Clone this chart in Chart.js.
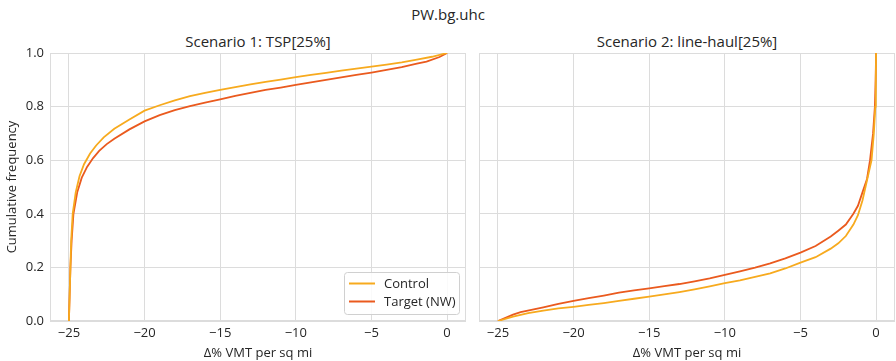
<!DOCTYPE html>
<html>
<head>
<meta charset="utf-8">
<script src="https://cdn.jsdelivr.net/npm/chart.js@4"></script>
<style>
  html, body { margin: 0; padding: 0; background: #fff; }
  body { width: 896px; height: 361px; position: relative; overflow: hidden; font-family: "Open Sans", sans-serif; }
  .box { position: absolute; top: 0; height: 361px; }
  .ttl { position: absolute; color: #262626; font-size: 15px; white-space: nowrap; transform: translateX(-50%); line-height: 1; }
</style>
</head>
<body>
<div class="ttl" style="left:448px; top:7px;">PW.bg.uhc</div>
<div class="ttl" style="left:258px; top:34px;">Scenario 1: TSP[25%]</div>
<div class="ttl" style="left:687px; top:34px;">Scenario 2: line-haul[25%]</div>
<div class="box" style="left:0; width:470px;"><canvas id="c1"></canvas></div>
<div class="box" style="left:470px; width:426px;"><canvas id="c2"></canvas></div>
<script>
// ---- data ----
const seriesNames = ["Control", "Target (NW)"];
const xTicks = [-25, -20, -15, -10, -5, 0];
const yTicks = [0, 0.2, 0.4, 0.6, 0.8, 1.0];

// Scenario 1: TSP[25%]
const s1ControlX = [-25, -24.95, -24.9, -24.85, -24.75, -24.55, -24.3, -24.0, -23.6, -23.2, -22.7, -22.0, -21, -20, -19, -18, -17, -16, -15, -14, -13, -12, -11, -10, -9, -8, -7, -6, -5, -4, -3, -2, -1, 0];
const s1ControlY = [0, 0.1, 0.2, 0.3, 0.4, 0.48, 0.54, 0.585, 0.625, 0.655, 0.685, 0.717, 0.752, 0.785, 0.805, 0.823, 0.839, 0.851, 0.862, 0.873, 0.883, 0.892, 0.901, 0.91, 0.918, 0.926, 0.934, 0.942, 0.949, 0.957, 0.965, 0.975, 0.986, 1.0];
const s1TargetX = [-25, -24.95, -24.9, -24.82, -24.7, -24.45, -24.15, -23.8, -23.4, -23, -22.5, -22, -21, -20, -19, -18, -17, -16, -15, -14, -13, -12, -11, -10, -9, -8, -7, -6, -5, -4, -3, -2, -1.36, -0.5, 0];
const s1TargetY = [0, 0.1, 0.2, 0.3, 0.4, 0.48, 0.535, 0.575, 0.608, 0.635, 0.66, 0.68, 0.715, 0.745, 0.768, 0.787, 0.802, 0.815, 0.827, 0.84, 0.851, 0.862, 0.871, 0.881, 0.89, 0.9, 0.909, 0.918, 0.927, 0.937, 0.947, 0.96, 0.968, 0.985, 1.0];

// Scenario 2: line-haul[25%]
const s2ControlX = [-25, -24, -23, -22, -21, -20, -19, -18, -17, -16, -15, -14, -13, -12, -11, -10, -9, -8, -7, -6, -5, -4, -3, -2.5, -2, -1.5, -1.2, -0.9, -0.7, -0.5, -0.3, -0.15, -0.05, -0.02, 0];
const s2ControlY = [0, 0.016, 0.029, 0.039, 0.047, 0.053, 0.06, 0.067, 0.075, 0.083, 0.091, 0.099, 0.108, 0.118, 0.129, 0.141, 0.152, 0.165, 0.178, 0.196, 0.218, 0.238, 0.27, 0.29, 0.317, 0.36, 0.395, 0.45, 0.5, 0.55, 0.6, 0.7, 0.8, 0.9, 1.0];
const s2TargetX = [-25, -24, -23.5, -22, -21, -20, -19, -18, -17, -16, -15, -14, -13, -12, -11, -10, -9, -8, -7, -6, -5, -4, -3, -2.5, -2, -1.5, -1.2, -0.9, -0.6, -0.4, -0.2, -0.08, -0.03, 0];
const s2TargetY = [0, 0.024, 0.033, 0.051, 0.064, 0.075, 0.085, 0.095, 0.106, 0.114, 0.122, 0.13, 0.138, 0.148, 0.159, 0.172, 0.185, 0.199, 0.215, 0.234, 0.255, 0.28, 0.315, 0.337, 0.36, 0.4, 0.43, 0.48, 0.53, 0.6, 0.7, 0.8, 0.9, 1.0];

const colors = ["#F7AA1E", "#EA5A1E"];
const FONT = "'Open Sans', sans-serif";
const TICK_COLOR = "#262626";
const GRID = "#dcdcdc";

const zip = (xs, ys) => xs.map((x, i) => ({ x: x, y: ys[i] }));
const fmtX = v => String(v).replace('-', '\u2212');

const framePlugin = {
  id: 'frame',
  beforeDatasetsDraw(chart) {
    const a = chart.chartArea, ctx = chart.ctx;
    ctx.save();
    ctx.strokeStyle = GRID;
    ctx.lineWidth = 1;
    ctx.strokeRect(Math.round(a.left) + 0.5, Math.round(a.top) + 0.5, Math.round(a.right - a.left) - 1, Math.round(a.bottom - a.top) - 1);
    ctx.restore();
  }
};

const legendPlugin = {
  id: 'innerLegend',
  afterDraw(chart, args, opts) {
    if (!opts || !opts.show) return;
    const a = chart.chartArea, ctx = chart.ctx;
    const w = 115, h = 42;
    const left = a.right - 7 - w, top = a.bottom - 7 - h;
    ctx.save();
    ctx.fillStyle = 'rgba(255,255,255,0.85)';
    ctx.strokeStyle = '#d0d0d0';
    ctx.lineWidth = 1;
    ctx.beginPath();
    ctx.roundRect(left + 0.5, top + 0.5, w, h, 3);
    ctx.fill();
    ctx.stroke();
    ctx.font = "13px " + FONT;
    ctx.textBaseline = 'middle';
    chart.data.datasets.forEach((ds, i) => {
      const y = top + 11.5 + i * 18;
      ctx.strokeStyle = ds.borderColor;
      ctx.lineWidth = 2;
      ctx.beginPath();
      ctx.moveTo(left + 5, y);
      ctx.lineTo(left + 31, y);
      ctx.stroke();
      ctx.fillStyle = TICK_COLOR;
      ctx.fillText(ds.label, left + 40, y + 0.5);
    });
    ctx.restore();
  }
};

function makeChart(id, control, target, showY, yWidth, padRight, showLegend) {
  return new Chart(document.getElementById(id), {
    type: 'line',
    data: {
      datasets: [
        { label: seriesNames[0], data: control, borderColor: colors[0], borderWidth: 1.8, pointRadius: 0, tension: 0, fill: false },
        { label: seriesNames[1], data: target, borderColor: colors[1], borderWidth: 1.8, pointRadius: 0, tension: 0, fill: false }
      ]
    },
    options: {
      responsive: true,
      maintainAspectRatio: false,
      animation: false,
      events: [],
      layout: { padding: { top: 53, left: 0, right: padRight, bottom: 0 } },
      plugins: {
        legend: { display: false },
        tooltip: { enabled: false },
        title: { display: false },
        innerLegend: { show: showLegend }
      },
      scales: {
        x: {
          type: 'linear',
          min: -26.25, max: 1.25,
          afterBuildTicks: s => { s.ticks = xTicks.map(v => ({ value: v })); },
          afterFit: s => { s.height = 40; },
          grid: { color: GRID, drawTicks: false, lineWidth: 1 },
          border: { display: false },
          ticks: { color: TICK_COLOR, font: { family: FONT, size: 13 }, padding: 4, callback: v => fmtX(v), maxRotation: 0 },
          title: { display: true, text: 'Δ% VMT per sq mi', color: TICK_COLOR, font: { family: FONT, size: 13 }, padding: { top: 0, bottom: 0 } }
        },
        y: {
          type: 'linear',
          min: 0, max: 1,
          afterBuildTicks: s => { s.ticks = yTicks.map(v => ({ value: v })); },
          afterFit: s => { s.width = yWidth; },
          grid: { color: GRID, drawTicks: false, lineWidth: 1 },
          border: { display: false },
          ticks: { display: showY, color: TICK_COLOR, font: { family: FONT, size: 13 }, padding: 6, callback: v => v.toFixed(1) },
          title: { display: showY, text: 'Cumulative frequency', color: TICK_COLOR, font: { family: FONT, size: 13 }, padding: { top: 4, bottom: 0 } }
        }
      }
    },
    plugins: [framePlugin, legendPlugin]
  });
}

makeChart('c1', zip(s1ControlX, s1ControlY), zip(s1TargetX, s1TargetY), true, 50, 4, true);
makeChart('c2', zip(s2ControlX, s2ControlY), zip(s2TargetX, s2TargetY), false, 9, 1, false);
</script>
</body>
</html>
